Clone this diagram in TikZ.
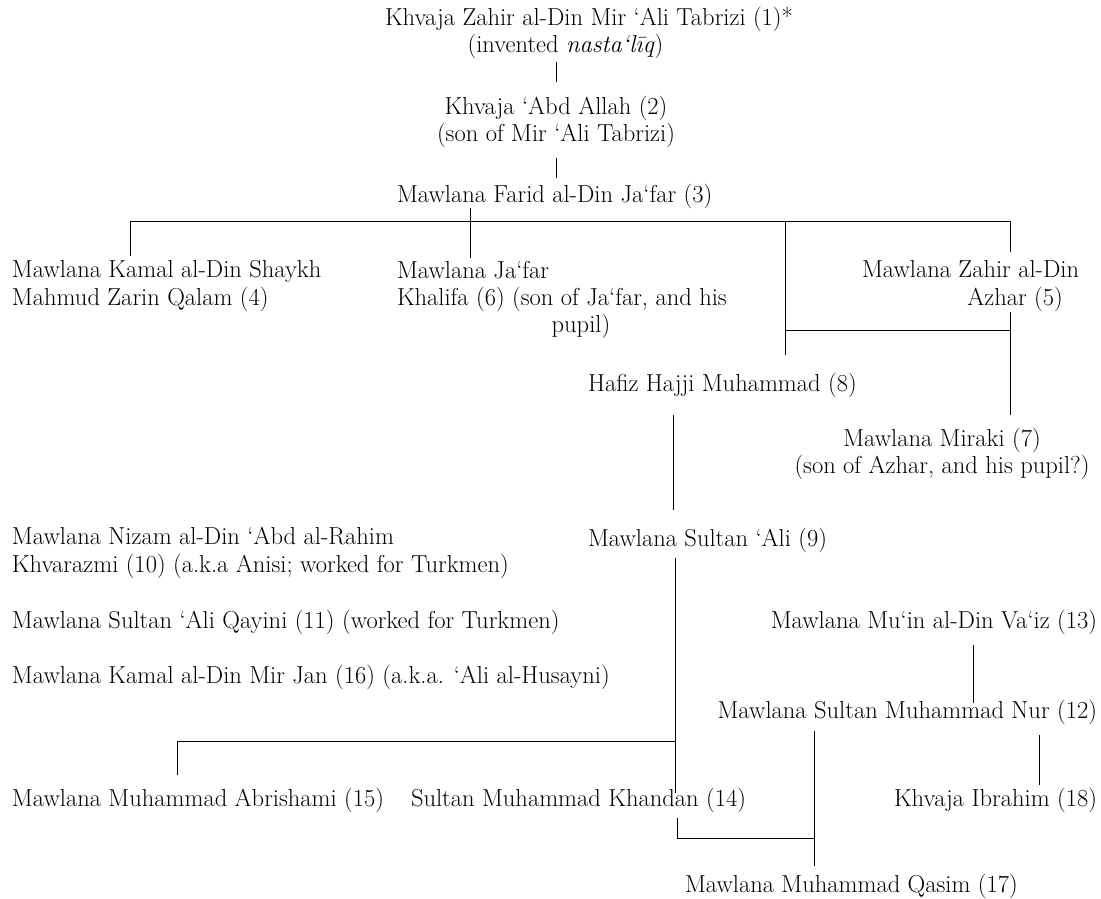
\documentclass[tikz,border=0pt]{standalone}
\usepackage{fontspec}
\setmainfont{Latin Modern Roman}
\begin{document}
\begin{tikzpicture}[x=0.75pt,y=-0.75pt,
  every node/.style={inner sep=0pt, outer sep=0pt, font=\fontsize{18.4}{20.5}\selectfont},
  conn/.style={draw=black, line width=0.7pt}]
\useasboundingbox (0,0) rectangle (1101,899);
% names
\node[anchor=west, align=left] (n1) at (385,33) {Khvaja Zahir al-Din Mir ‘Ali Tabrizi (1)*\\\hspace*{62pt}(invented \textit{nasta‘līq})};
\node[align=center] (n2) at (556,122) {Khvaja ‘Abd Allah (2)\\(son of Mir ‘Ali Tabrizi)};
\node[anchor=west] (n3) at (397,196) {Mawlana Farid al-Din Ja‘far (3)};
\node[anchor=west, align=left] (n4) at (12,286) {Mawlana Kamal al-Din Shaykh\\Mahmud Zarin Qalam (4)};
\node[anchor=west, align=left] (n6) at (397,300) {Mawlana Ja‘far\\Khalifa (6) (son of Ja‘far, and his\\\hspace*{116pt}pupil)};
\node[anchor=west, align=left] (n5) at (862,286) {Mawlana Zahir al-Din\\\hspace*{79pt}Azhar (5)};
\node[anchor=west] (n8) at (588,385) {Hafiz Hajji Muhammad (8)};
\node[align=center] (n7) at (942,454) {Mawlana Miraki (7)\\(son of Azhar, and his pupil?)};
\node[anchor=west] (n9) at (588,540) {Mawlana Sultan ‘Ali (9)};
\node[anchor=west, align=left] (n10) at (12,553) {Mawlana Nizam al-Din ‘Abd al-Rahim\\Khvarazmi (10) (a.k.a Anisi; worked for Turkmen)};
\node[anchor=west] (n11) at (12,622) {Mawlana Sultan ‘Ali Qayini (11) (worked for Turkmen)};
\node[anchor=west] (n16) at (12,677) {Mawlana Kamal al-Din Mir Jan (16) (a.k.a. ‘Ali al-Husayni)};
\node[anchor=east] (n13) at (1097,622) {Mawlana Mu‘in al-Din Va‘iz (13)};
\node[anchor=east] (n12) at (1097,712) {Mawlana Sultan Muhammad Nur (12)};
\node[anchor=west] (n15) at (12,800) {Mawlana Muhammad Abrishami (15)};
\node[anchor=west] (n14) at (411,800) {Sultan Muhammad Khandan (14)};
\node[anchor=east] (n18) at (1097,800) {Khvaja Ibrahim (18)};
\node[anchor=west] (n17) at (685,886) {Mawlana Muhammad Qasim (17)};
% junctions
\coordinate (j4) at (130,221);
\coordinate (j6) at (470,221);
\coordinate (j8) at (785,221);
\coordinate (j5) at (1010,221);
\coordinate (k8) at (785,330);
\coordinate (k5) at (1010,330);
\coordinate (m15) at (177,741);
\coordinate (m14) at (675,741);
\coordinate (q14) at (677,838);
\coordinate (q17) at (814,838);
% connectors
\draw[conn] (n2.north |- 0,62) -- (n2.north |- 0,82);
\draw[conn] (n2.south |- 0,158) -- (n2.south |- 0,178);
\draw[conn] (j4) -- (j5);
\draw[conn] (j4) -- (j4 |- 0,256);
\draw[conn] (j6 |- 0,208) -- (j6 |- 0,258);
\draw[conn] (j8) -- (j8 |- 0,355);
\draw[conn] (j5) -- (j5 |- 0,252);
\draw[conn] (k8) -- (k5);
\draw[conn] (k5 |- 0,312) -- (k5 |- 0,415);
\draw[conn] (673,415) -- (673,510);
\draw[conn] (m14 |- 0,558) -- (m14 |- 0,793);
\draw[conn] (973,645) -- (973,703);
\draw[conn] (m15 |- 0,775) -- (m15) -- (m14);
\draw[conn] (1039,735) -- (1039,785);
\draw[conn] (q17 |- 0,731) -- (q17 |- 0,866);
\draw[conn] (q14 |- 0,818) -- (q14) -- (q17);
\end{tikzpicture}
\end{document}
